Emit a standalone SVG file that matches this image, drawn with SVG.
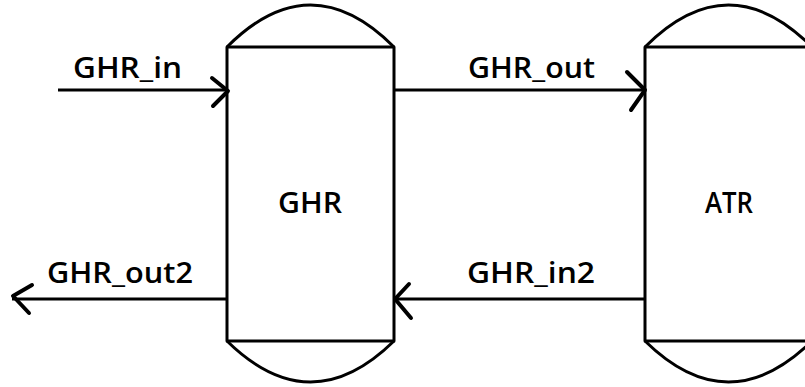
<svg xmlns="http://www.w3.org/2000/svg" width="805" height="387" viewBox="0 0 805 387">
<style>
.shape{fill:#fff;stroke:#000;stroke-width:3;stroke-linejoin:round}
.dome{fill:none;stroke:#000;stroke-width:3}
.line{fill:none;stroke:#000;stroke-width:3}
.head{fill:none;stroke:#000;stroke-width:4;stroke-linecap:round;stroke-linejoin:round}
text{font-family:"Open Sans","Liberation Sans",Arial,sans-serif;font-size:29px;font-weight:600;fill:#000}
.c{text-anchor:middle}
</style>
<rect width="805" height="387" fill="#fff"/>
<g id="GHR">
<path class="dome" d="M227,47 Q310.5,-37 394,47"/>
<path class="dome" d="M227,341 Q310.5,423 394,341"/>
<rect class="shape" x="227" y="47" width="167" height="294"/>
<text class="c" x="310" y="213" textLength="64" lengthAdjust="spacingAndGlyphs">GHR</text>
</g>
<g id="ATR">
<path class="dome" d="M645,47 Q728.5,-37 812,47"/>
<path class="dome" d="M645,341 Q728.5,423 812,341"/>
<rect class="shape" x="645" y="47" width="167" height="294"/>
<text x="705" y="213" textLength="48" lengthAdjust="spacingAndGlyphs">ATR</text>
</g>
<g id="connectors">
<g id="GHR_in">
<line class="line" x1="58" y1="90" x2="227" y2="90"/>
<path class="head" d="M212,78 L228,91 L213,106"/>
<text x="73" y="78" textLength="109" lengthAdjust="spacingAndGlyphs">GHR_in</text>
</g>
<g id="GHR_out">
<line class="line" x1="394" y1="90" x2="645" y2="90"/>
<path class="head" d="M627,72 L645,90 L631,110"/>
<text x="468" y="78" textLength="127" lengthAdjust="spacingAndGlyphs">GHR_out</text>
</g>
<g id="GHR_in2">
<line class="line" x1="645" y1="299" x2="394" y2="299"/>
<path class="head" d="M409,284 L395,299 L411,318"/>
<text x="467" y="283" textLength="128" lengthAdjust="spacingAndGlyphs">GHR_in2</text>
</g>
<g id="GHR_out2">
<line class="line" x1="227" y1="299" x2="12" y2="299"/>
<path class="head" d="M32,285 L13,296 L29,313"/>
<text x="47" y="283" textLength="146" lengthAdjust="spacingAndGlyphs">GHR_out2</text>
</g>
</g>
</svg>
